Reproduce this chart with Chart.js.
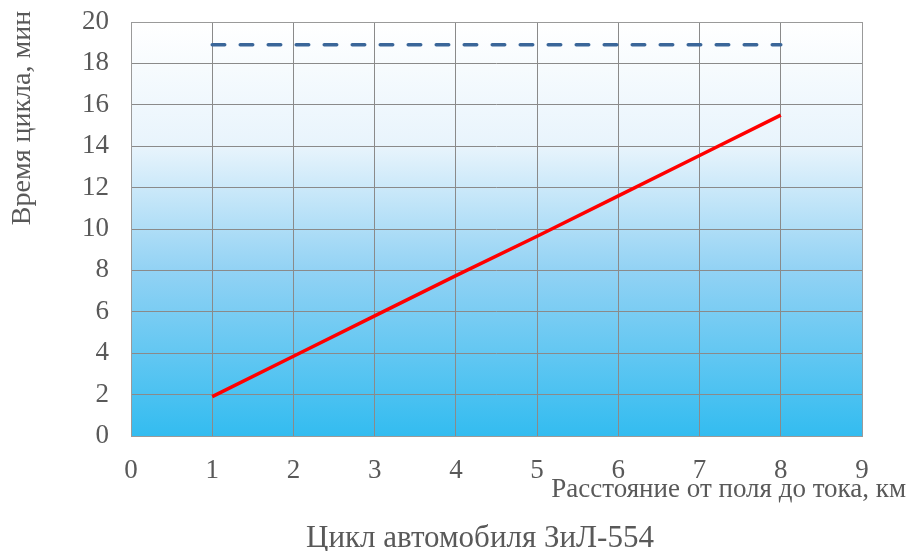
<!DOCTYPE html>
<html>
<head>
<meta charset="utf-8">
<script src="https://cdn.jsdelivr.net/npm/chart.js@4.4.0/dist/chart.umd.min.js"></script>
<style>
html,body{margin:0;padding:0;background:#fff;}
#wrap{width:907px;height:551px;}
</style>
</head>
<body>
<div id="wrap"><canvas id="c" width="907" height="551"></canvas></div>
<script>
const distances = [1, 2, 3, 4, 5, 6, 7, 8];
const cycleTime = [1.9, 3.85, 5.8, 7.75, 9.65, 11.6, 13.55, 15.5];
const normTime = [18.9, 18.9, 18.9, 18.9, 18.9, 18.9, 18.9, 18.9];
const chartTitle = 'Цикл автомобиля ЗиЛ-554';
const xTitle = 'Расстояние от поля до тока, км';
const yTitle = 'Время цикла, мин';

const FONT = '"Liberation Serif", "Times New Roman", serif';
const TEXT = '#595959';

const bgPlugin = {
  id: 'bg',
  beforeDraw(chart) {
    const {ctx, chartArea: a} = chart;
    const g = ctx.createLinearGradient(0, a.top, 0, a.bottom);
    g.addColorStop(0, '#ffffff');
    g.addColorStop(0.3, '#e8f4fc');
    g.addColorStop(0.6, '#92d2f4');
    g.addColorStop(1, '#33bcf0');
    ctx.save();
    ctx.fillStyle = g;
    ctx.fillRect(a.left, a.top, a.right - a.left, a.bottom - a.top);
    ctx.restore();
  },
  afterDraw(chart) {
    const {ctx, chartArea: a} = chart;
    ctx.save();
    ctx.strokeStyle = '#9a9a9a';
    ctx.lineWidth = 1;
    ctx.strokeRect(a.left + 0.5, a.top + 0.5, a.right - a.left, a.bottom - a.top);
    ctx.fillStyle = TEXT;
    ctx.font = '27px ' + FONT;
    ctx.textAlign = 'right';
    ctx.textBaseline = 'alphabetic';
    ctx.fillText(xTitle, 906, 497);
    ctx.font = '31px ' + FONT;
    ctx.textAlign = 'center';
    ctx.fillText(chartTitle, 480, 547);
    ctx.translate(30, 118);
    ctx.rotate(-Math.PI / 2);
    ctx.font = '28px ' + FONT;
    ctx.textAlign = 'center';
    ctx.fillText(yTitle, 0, 0);
    ctx.restore();
  }
};

new Chart(document.getElementById('c'), {
  type: 'line',
  data: {
    datasets: [
      {
        label: 'Время цикла',
        data: distances.map((d, i) => ({x: d, y: cycleTime[i]})),
        borderColor: '#ff0000',
        borderWidth: 3.5,
        pointRadius: 0,
        fill: false,
        tension: 0
      },
      {
        label: 'Норма',
        data: distances.map((d, i) => ({x: d, y: normTime[i]})),
        borderColor: '#3a6699',
        borderWidth: 3.5,
        borderDash: [12.5, 15.5],
        borderCapStyle: 'round',
        pointRadius: 0,
        fill: false,
        tension: 0
      }
    ]
  },
  options: {
    responsive: false,
    animation: false,
    events: [],
    layout: {padding: {left: 0, top: 22, right: 45, bottom: 55}},
    plugins: {legend: {display: false}, tooltip: {enabled: false}, title: {display: false}},
    scales: {
      x: {
        type: 'linear', min: 0, max: 9,
        ticks: {stepSize: 1, color: TEXT, font: {family: FONT, size: 27}, padding: 19},
        grid: {color: '#8a8a8a', drawTicks: false},
        border: {display: false},
        afterFit(s) { s.height = 60; s.paddingLeft = 0; s.paddingRight = 0; }
      },
      y: {
        min: 0, max: 20,
        ticks: {stepSize: 2, color: TEXT, font: {family: FONT, size: 27}, padding: 22},
        grid: {color: '#8a8a8a', drawTicks: false},
        border: {display: false},
        afterFit(s) { s.width = 131; s.paddingTop = 0; s.paddingBottom = 0; }
      }
    }
  },
  plugins: [bgPlugin]
});
</script>
</body>
</html>
